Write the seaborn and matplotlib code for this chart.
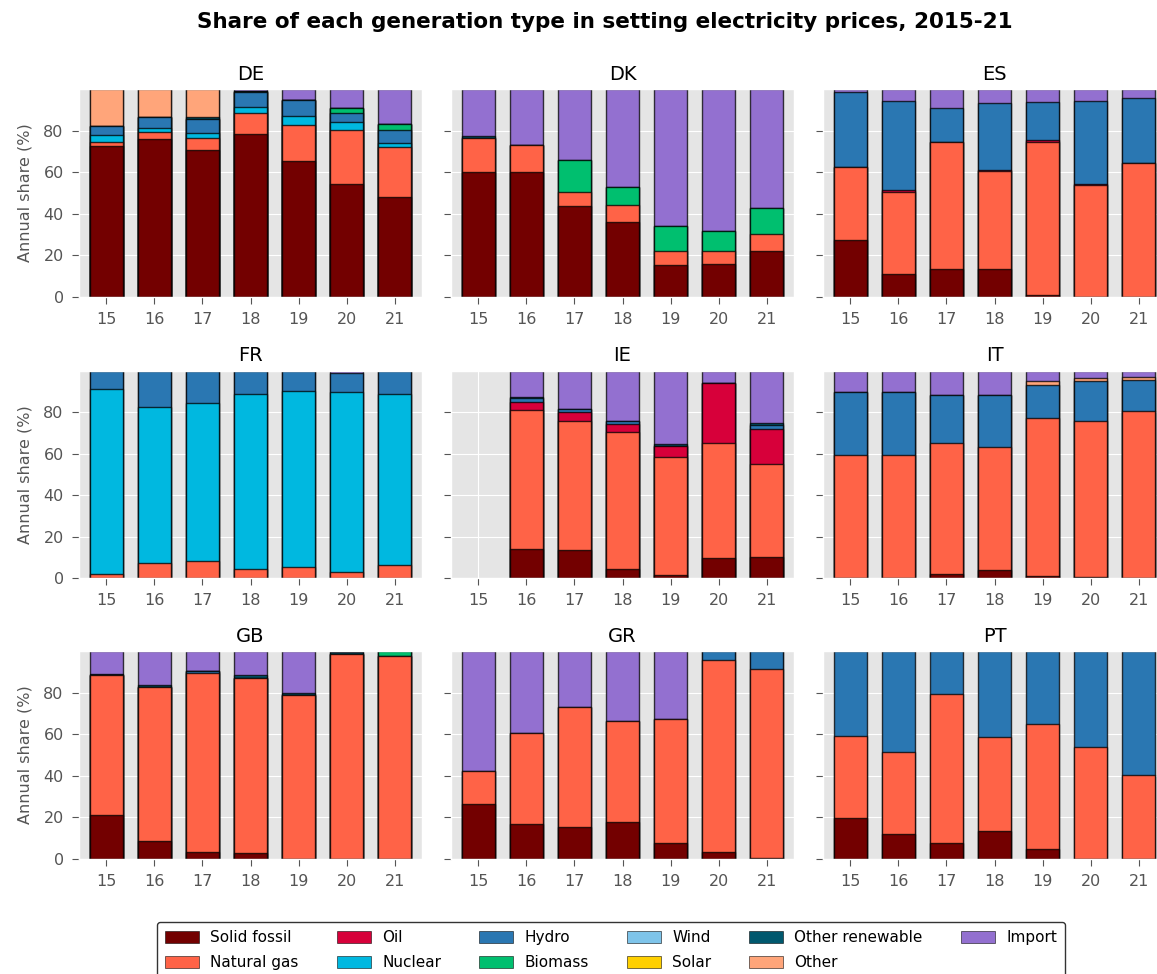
import numpy as np
import pandas as pd
import matplotlib
matplotlib.use("Agg")
import matplotlib.pyplot as plt
from matplotlib.patches import Patch
import seaborn as sns

years = ["15", "16", "17", "18", "19", "20", "21"]
countries = ["DE", "DK", "ES", "FR", "IE", "IT", "GB", "GR", "PT"]
categories = ["Solid fossil", "Natural gas", "Oil", "Nuclear", "Hydro", "Biomass",
              "Wind", "Solar", "Other renewable", "Other", "Import"]
colors = ["#730000", "#FF6347", "#D7003A", "#00B8E0", "#2A77B2", "#00BF6F",
          "#7EC4EA", "#FFD000", "#00586E", "#FFA57A", "#9370D0"]

nan = np.nan

# DE
de_solid = [72.5, 76.1, 70.9, 78.6, 65.4, 54.4, 48.2]
de_gas = [2.1, 3.3, 5.5, 9.9, 17.3, 25.9, 23.8]
de_nuclear = [3.2, 1.8, 2.6, 3.1, 4.4, 3.8, 1.9]
de_hydro = [4.4, 5.4, 6.8, 7.3, 7.7, 4.4, 6.4]
de_biomass = [0, 0, 0, 0, 0, 2.4, 3.0]
de_other_ren = [0, 0, 0.8, 0.5, 0, 0, 0]
de_other = [17.8, 13.4, 13.4, 0, 0, 0, 0]
de_import = [0, 0, 0, 0.6, 5.2, 9.1, 16.7]
# DK
dk_solid = [60.2, 60.2, 43.7, 36.2, 15.4, 16.0, 22.3]
dk_gas = [16.2, 13.1, 6.8, 7.8, 6.6, 6.0, 8.1]
dk_biomass = [0, 0, 15.4, 9.1, 12.1, 9.7, 12.6]
dk_other_ren = [0.9, 0, 0, 0, 0, 0, 0]
dk_import = [22.7, 26.7, 34.1, 46.9, 65.9, 68.3, 57.0]
# ES
es_solid = [27.5, 11.0, 13.4, 13.4, 1.0, 0, 0]
es_gas = [35.0, 39.6, 61.4, 47.4, 73.8, 53.9, 64.6]
es_oil = [0, 0.9, 0, 0.3, 0.6, 0.6, 0]
es_hydro = [36.2, 42.7, 16.3, 32.4, 18.5, 39.7, 31.4]
es_import = [1.3, 5.8, 8.9, 6.5, 6.1, 5.8, 4.0]
# FR
fr_gas = [1.8, 7.1, 8.1, 4.5, 5.2, 3.1, 6.5]
fr_nuclear = [89.6, 75.3, 76.2, 84.2, 84.8, 86.5, 82.2]
fr_hydro = [8.6, 17.6, 15.7, 11.3, 10.0, 9.3, 11.3]
fr_import = [0, 0, 0, 0, 0, 1.1, 0]
# IE (no 2015 data)
ie_solid = [nan, 14.0, 13.4, 4.5, 1.6, 9.6, 10.2]
ie_gas = [nan, 66.9, 62.3, 66.1, 57.0, 55.5, 44.8]
ie_oil = [nan, 4.2, 4.4, 3.8, 5.3, 29.1, 17.0]
ie_hydro = [nan, 1.6, 1.3, 1.3, 0, 0, 2.0]
ie_other_ren = [nan, 0.7, 0, 0, 0.8, 0, 0.8]
ie_import = [nan, 12.6, 18.6, 24.3, 35.3, 5.8, 25.2]
# IT
it_solid = [0, 0, 2.1, 3.9, 1.3, 0.6, 0]
it_gas = [59.2, 59.2, 62.9, 59.2, 75.7, 75.1, 80.7]
it_hydro = [30.4, 30.4, 23.5, 25.4, 15.9, 19.1, 14.8]
it_other = [0, 0, 0, 0, 2.2, 1.6, 1.3]
it_import = [10.4, 10.4, 11.5, 11.5, 4.9, 3.6, 3.2]
# GB
gb_solid = [21.3, 8.4, 3.4, 2.7, 0, 0, 0]
gb_gas = [67.1, 74.3, 86.1, 84.4, 78.9, 98.9, 97.7]
gb_hydro = [0, 0, 1.1, 0, 0, 0, 0]
gb_biomass = [0, 0, 0, 0, 0, 0, 2.3]
gb_other_ren = [0.6, 1.3, 0, 1.3, 0.8, 0.6, 0]
gb_import = [11.0, 16.0, 9.4, 11.6, 20.3, 0.5, 0]
# GR
gr_solid = [26.6, 16.6, 15.3, 17.9, 7.7, 3.4, 0.6]
gr_gas = [15.7, 43.9, 57.8, 48.4, 59.7, 92.4, 90.7]
gr_hydro = [0, 0, 0, 0, 0, 4.2, 8.7]
gr_import = [57.7, 39.5, 26.9, 33.7, 32.6, 0, 0]
# PT
pt_solid = [19.8, 11.8, 7.4, 13.5, 4.5, 0, 0]
pt_gas = [39.4, 39.7, 72.0, 45.0, 60.3, 54.0, 40.3]
pt_hydro = [40.8, 48.5, 20.6, 41.5, 35.2, 46.0, 59.7]

shares = {
    "DE": {"Solid fossil": de_solid, "Natural gas": de_gas, "Nuclear": de_nuclear,
           "Hydro": de_hydro, "Biomass": de_biomass, "Other renewable": de_other_ren,
           "Other": de_other, "Import": de_import},
    "DK": {"Solid fossil": dk_solid, "Natural gas": dk_gas, "Biomass": dk_biomass,
           "Other renewable": dk_other_ren, "Import": dk_import},
    "ES": {"Solid fossil": es_solid, "Natural gas": es_gas, "Oil": es_oil,
           "Hydro": es_hydro, "Import": es_import},
    "FR": {"Natural gas": fr_gas, "Nuclear": fr_nuclear, "Hydro": fr_hydro,
           "Import": fr_import},
    "IE": {"Solid fossil": ie_solid, "Natural gas": ie_gas, "Oil": ie_oil,
           "Hydro": ie_hydro, "Other renewable": ie_other_ren, "Import": ie_import},
    "IT": {"Solid fossil": it_solid, "Natural gas": it_gas, "Hydro": it_hydro,
           "Other": it_other, "Import": it_import},
    "GB": {"Solid fossil": gb_solid, "Natural gas": gb_gas, "Hydro": gb_hydro,
           "Biomass": gb_biomass, "Other renewable": gb_other_ren, "Import": gb_import},
    "GR": {"Solid fossil": gr_solid, "Natural gas": gr_gas, "Hydro": gr_hydro,
           "Import": gr_import},
    "PT": {"Solid fossil": pt_solid, "Natural gas": pt_gas, "Hydro": pt_hydro},
}

plt.style.use("ggplot")
plt.rcParams["font.family"] = ["DejaVu Sans"]

W, H = 1157, 974
fig, axes = plt.subplots(3, 3, figsize=(W / 100, H / 100), dpi=100, sharey=True)

col_left = [79, 451, 823]
row_top = [89.3, 370.7, 651.3]
ax_w, ax_h = 343, 207.5

for i, country in enumerate(countries):
    r, c = divmod(i, 3)
    ax = axes[r, c]
    ax.set_position([col_left[c] / W, 1 - (row_top[r] + ax_h) / H, ax_w / W, ax_h / H])

    df = pd.DataFrame({"year": years})
    for cat in categories:
        df[cat] = shares[country].get(cat, [0] * len(years))
    cum = df[categories].cumsum(axis=1)
    cum["year"] = years

    # draw cumulative totals from the top layer down so each layer shows
    for cat, col in zip(categories[::-1], colors[::-1]):
        if cat not in shares[country]:
            continue
        sns.barplot(data=cum, x="year", y=cat, order=years, color=col,
                    saturation=1, width=0.7, errorbar=None,
                    edgecolor=(0, 0, 0, 0.75), linewidth=1, ax=ax)

    ax.set_title(country, fontsize=14, color="black", pad=7)
    ax.set_xlabel("")
    ax.set_ylabel("Annual share (%)" if c == 0 else "", fontsize=11.5,
                  color="#555555", labelpad=8)
    ax.set_ylim(0, 100)
    ax.set_xlim(-0.57, 6.57)
    ax.set_yticks([0, 20, 40, 60, 80])
    ax.tick_params(labelsize=11.5, colors="#555555", length=5, pad=6)
    ax.grid(True, axis="x", color="white")
    ax.set_axisbelow(True)

fig.text(605 / W, 1 - 22 / H, "Share of each generation type in setting electricity prices, 2015-21",
         ha="center", va="center", fontsize=15.5, fontweight="bold")

handles = [Patch(facecolor=col, edgecolor=(0, 0, 0, 0.75), label=cat)
           for cat, col in zip(categories, colors)]
leg = fig.legend(handles=handles, ncol=6, loc="upper left",
                 bbox_to_anchor=(157 / W, 1 - 922 / H), borderaxespad=0, fontsize=11,
                 frameon=True, fancybox=True, handlelength=2.2, handleheight=0.8,
                 handletextpad=0.75, columnspacing=2.5, labelspacing=0.65, borderpad=0.55)
leg.get_frame().set_edgecolor("black")
leg.get_frame().set_facecolor("white")
leg.get_frame().set_linewidth(1)

fig.savefig("out.png", dpi=100)
